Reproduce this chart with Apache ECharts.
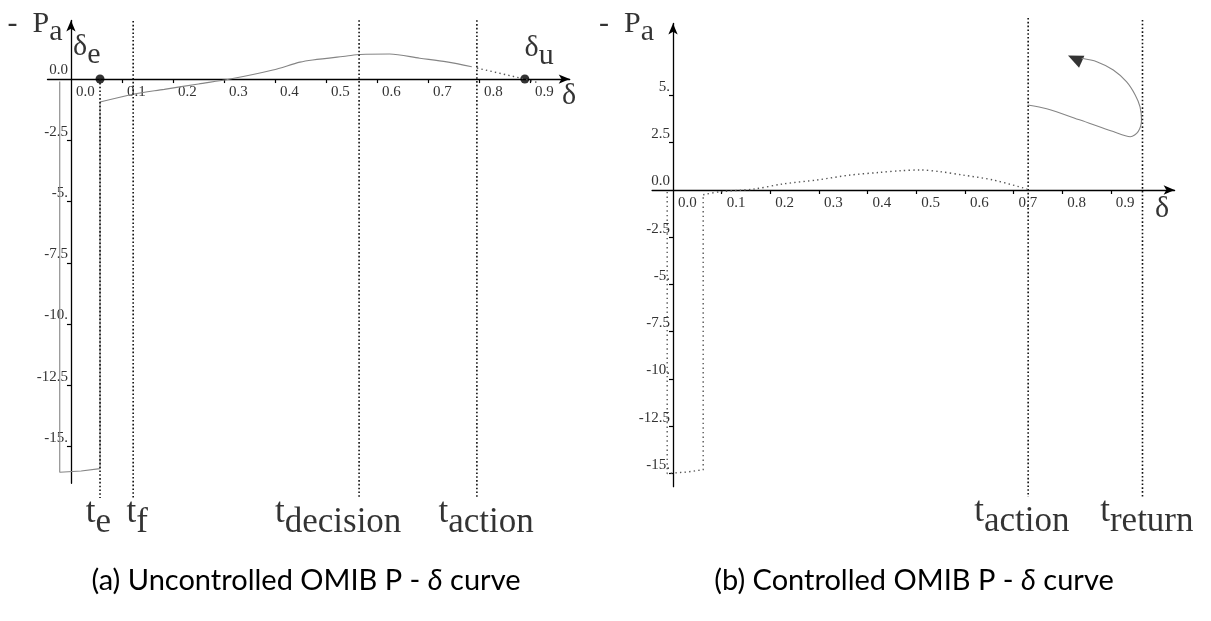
<!DOCTYPE html>
<html>
<head>
<meta charset="utf-8">
<script src="https://cdn.jsdelivr.net/npm/echarts@6/dist/echarts.min.js"></script>
<style>
html, body { margin: 0; padding: 0; background: #fff; }
#chart { width: 1211px; height: 621px; }
</style>
</head>
<body>
<div id="chart"></div>
<script>
// ---------- Panel (a): uncontrolled OMIB P - delta trajectory ----------
const faultStepA = [[-0.022, -0.1], [-0.022, -16.05], [0.02, -16.0], [0.057, -15.9], [0.057, -0.94]];
const postFaultA = [[0.057, -0.94], [0.122, -0.62], [0.183, -0.42], [0.25, -0.2], [0.312, 0.0], [0.396, 0.37],
                    [0.449, 0.69], [0.474, 0.78], [0.541, 0.94], [0.567, 1.0], [0.625, 1.02], [0.684, 0.85],
                    [0.737, 0.70], [0.786, 0.50]];
const unstableTailA = [[0.796, 0.45], [0.89, 0.0], [0.916, -0.15]];
const equilibriaA = [[0.057, 0], [0.89, 0]];           // delta_e, delta_u
const eventTimesA = [0.057, 0.122, 0.565, 0.796];      // t_e, t_f, t_decision, t_action
const eventTopsA = [0, 2.37, 2.4, 2.4];
const eventBottomA = -17.1;

// ---------- Panel (b): controlled OMIB P - delta trajectory ----------
const faultStepB = [[-0.012, -0.1], [-0.012, -15.0], [0.03, -14.92], [0.062, -14.8], [0.062, -0.25]];
const postFaultB = [[0.062, -0.25], [0.097, -0.09], [0.164, 0.04], [0.226, 0.32], [0.296, 0.53], [0.364, 0.79],
                    [0.425, 0.93], [0.467, 1.02], [0.508, 1.06], [0.549, 0.97], [0.596, 0.79], [0.658, 0.53],
                    [0.728, 0.05]];
const controlledB = [[0.729, 4.5], [0.768, 4.3], [0.837, 3.7], [0.905, 3.09], [0.94, 2.82], [0.956, 3.09],
                     [0.963, 3.7], [0.96, 4.4], [0.95, 5.03], [0.932, 5.73], [0.905, 6.35], [0.871, 6.79],
                     [0.84, 6.97]];
const arrowHeadB = [[0.826, 6.95]];
const eventTimesB = [0.730, 0.965];                    // t_action, t_return
const eventTopsB = [9.1, 9.0];
const eventBottomB = -16.25;

// ---------- Tick values and labels ----------
const xTickValues = [0.1, 0.2, 0.3, 0.4, 0.5, 0.6, 0.7, 0.8, 0.9];
const xLabelValues = [0, 0.1, 0.2, 0.3, 0.4, 0.5, 0.6, 0.7, 0.8, 0.9];
const xTickLabels = ['0.0', '0.1', '0.2', '0.3', '0.4', '0.5', '0.6', '0.7', '0.8', '0.9'];
const yTickValuesA = [0, -2.5, -5, -7.5, -10, -12.5, -15];
const yTickLabelsA = ['0.0', '-2.5', '-5.', '-7.5', '-10.', '-12.5', '-15.'];
const yTickValuesB = [5, 2.5, 0, -2.5, -5, -7.5, -10, -12.5, -15];
const yTickLabelsB = ['5.', '2.5', '0.0', '-2.5', '-5.', '-7.5', '-10.', '-12.5', '-15.'];

// ---------- Annotation texts (rich-text markup) and their anchor points ----------
const notesA = [
  { at: [-0.0706, 2.08], text: '{b|-\u2002P}{s|a}' },
  { at: [0.031, 1.14], text: '{b|δ}{s|e}' },
  { at: [0.918, 1.10], text: '{b|δ}{s|u}' },
  { at: [0.977, -0.86], text: '{b|δ}' },
  { at: [0.054, -17.9], text: '{t|t}{u|e}' },
  { at: [0.130, -17.9], text: '{t|t}{u|f}' },
  { at: [0.524, -17.9], text: '{t|t}{u|decision}' },
  { at: [0.814, -17.9], text: '{t|t}{u|action}' }
];
const notesB = [
  { at: [-0.0956, 8.57], text: '{b|-\u2002P}{s|a}' },
  { at: [1.005, -1.22], text: '{b|δ}' },
  { at: [0.717, -17.3], text: '{t|t}{u|action}' },
  { at: [0.974, -17.3], text: '{t|t}{u|return}' }
];

const captionA = '(a) Uncontrolled OMIB P - {i|δ} curve';
const captionB = '(b) Controlled OMIB P - {i|δ} curve';

// ---------- Styling helpers ----------
const SERIF = 'Liberation Serif';
const CURVE_GREY = '#858585';
const DOT_GREY = '#555';

const grids = [
  { left: 47.5, top: 20.5, width: 522.2, height: 462.8, xr: [-0.046, 0.978], yr: [-16.5, 2.39] },
  { left: 652.1, top: 23.5, width: 522.5, height: 463.2, xr: [-0.043, 1.031], yr: [-15.7, 8.81] }
];

function lookup(values, labels) {
  return function (v) {
    for (let i = 0; i < values.length; i++) {
      if (Math.abs(values[i] - v) < 1e-9) return labels[i];
    }
    return '';
  };
}

// axes cross at the origin: shift each axis from the grid edge to the zero line
function xAxisCfg(g) {
  const G = grids[g];
  const shift = G.height * (0 - G.yr[0]) / (G.yr[1] - G.yr[0]);
  return {
    type: 'value', gridIndex: g, min: G.xr[0], max: G.xr[1], position: 'bottom', offset: -shift,
    splitLine: { show: false },
    axisLine: { onZero: false, symbol: ['none', 'arrow'], symbolSize: [7, 11],
                lineStyle: { color: '#000', width: 1.3 } },
    axisTick: { show: true, length: 4, customValues: xTickValues, lineStyle: { color: '#000', width: 1.2 } },
    axisLabel: { customValues: xLabelValues, formatter: lookup(xLabelValues, xTickLabels),
                 fontFamily: SERIF, fontSize: 15, color: '#333', align: 'left',
                 padding: [0, 0, 0, 5], margin: 6 }
  };
}

function yAxisCfg(g, values, labels) {
  const G = grids[g];
  const shift = G.width * (0 - G.xr[0]) / (G.xr[1] - G.xr[0]);
  return {
    type: 'value', gridIndex: g, min: G.yr[0], max: G.yr[1], position: 'left', offset: -shift,
    splitLine: { show: false },
    axisLine: { onZero: false, symbol: ['none', 'arrow'], symbolSize: [7, 11],
                lineStyle: { color: '#000', width: 1.3 } },
    axisTick: { show: true, length: 4, customValues: values.filter(v => v !== 0),
                lineStyle: { color: '#000', width: 1.2 } },
    axisLabel: { customValues: values, formatter: lookup(values, labels),
                 fontFamily: SERIF, fontSize: 15, color: '#333',
                 verticalAlign: 'bottom', padding: [0, 0, 1, 0], margin: 3 }
  };
}

function curve(g, data, color, width, type, smooth) {
  return {
    type: 'line', xAxisIndex: g, yAxisIndex: g, data: data,
    showSymbol: false, smooth: smooth || false, silent: true, animation: false,
    lineStyle: { color: color, width: width, type: type }
  };
}

function eventLines(g, times, tops, bottom) {
  return times.map((t, i) => ({
    type: 'line', xAxisIndex: g, yAxisIndex: g, clip: false,
    data: [[t, tops[i]], [t, bottom]], showSymbol: false, silent: true, animation: false,
    lineStyle: { color: '#111', width: 1.6, type: [1.6, 2.2] }
  }));
}

const richText = {
  b: { fontFamily: SERIF, fontSize: 30, color: '#000', padding: [0, 0, 8, 0] },
  s: { fontFamily: SERIF, fontSize: 30, color: '#000', padding: [8, 0, 0, 0] },
  t: { fontFamily: SERIF, fontSize: 35, color: '#000', padding: [0, 0, 10, 0] },
  u: { fontFamily: SERIF, fontSize: 35, color: '#000', padding: [10, 0, 0, 0] }
};

function notes(g, list) {
  return {
    type: 'scatter', xAxisIndex: g, yAxisIndex: g, clip: false, silent: true, animation: false,
    symbol: 'circle', symbolSize: 1, itemStyle: { color: 'transparent' },
    data: list.map(n => ({ value: n.at, name: n.text })),
    label: { show: true, position: 'inside', formatter: p => p.name, rich: richText }
  };
}

const captionStyle = {
  fontFamily: 'Lato', fontSize: 29, fontWeight: 'normal', color: '#000',
  rich: { i: { fontFamily: 'Lato', fontSize: 29, fontStyle: 'italic', color: '#000' } }
};

const option = {
  backgroundColor: '#fff',
  animation: false,
  title: [
    { text: captionA, left: 301, top: 561, textAlign: 'center', textStyle: captionStyle },
    { text: captionB, left: 909, top: 561, textAlign: 'center', textStyle: captionStyle }
  ],
  grid: grids.map(G => ({ left: G.left, top: G.top, width: G.width, height: G.height, containLabel: false })),
  xAxis: [xAxisCfg(0), xAxisCfg(1)],
  yAxis: [yAxisCfg(0, yTickValuesA, yTickLabelsA), yAxisCfg(1, yTickValuesB, yTickLabelsB)],
  series: [
    // panel (a)
    curve(0, faultStepA, CURVE_GREY, 1.1, 'solid', false),
    curve(0, postFaultA, CURVE_GREY, 1.1, 'solid', 0.3),
    curve(0, unstableTailA, DOT_GREY, 1.4, [1.4, 3.2], false),
    ...eventLines(0, eventTimesA, eventTopsA, eventBottomA),
    {
      type: 'scatter', xAxisIndex: 0, yAxisIndex: 0, silent: true, animation: false,
      data: equilibriaA, symbol: 'circle', symbolSize: 9, itemStyle: { color: '#000' }
    },
    notes(0, notesA),
    // panel (b)
    curve(1, faultStepB, DOT_GREY, 1.4, [1.4, 3.2], false),
    curve(1, postFaultB, DOT_GREY, 1.4, [1.4, 3.2], 0.3),
    curve(1, controlledB, CURVE_GREY, 1.1, 'solid', 0.3),
    ...eventLines(1, eventTimesB, eventTopsB, eventBottomB),
    {
      type: 'scatter', xAxisIndex: 1, yAxisIndex: 1, silent: true, animation: false,
      data: arrowHeadB, symbol: 'triangle', symbolSize: [13, 15], symbolRotate: 66,
      itemStyle: { color: '#000' }
    },
    notes(1, notesB)
  ]
};

const chart = echarts.init(document.getElementById('chart'), null, { renderer: 'canvas' });
chart.setOption(option);
</script>
</body>
</html>
